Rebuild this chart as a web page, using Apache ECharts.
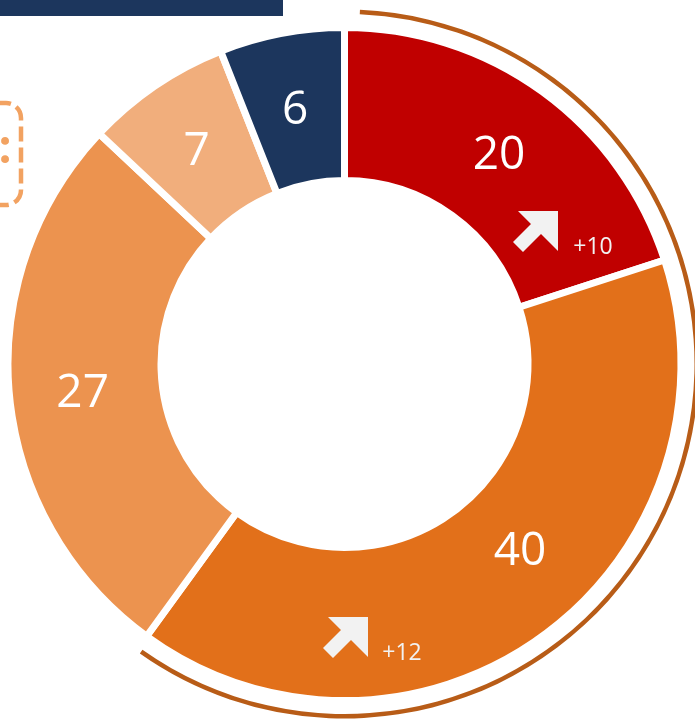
<!DOCTYPE html>
<html>
<head>
<meta charset="utf-8">
<script src="https://cdn.jsdelivr.net/npm/echarts@6/dist/echarts.min.js"></script>
<style>
  html, body { margin: 0; padding: 0; background: #fff; }
  #chart { width: 695px; height: 721px; }
</style>
</head>
<body>
<div id="chart"></div>
<script>
    // 数据
    const names = ['A', 'B', 'C', 'D', 'E']
    const values = [20, 40, 27, 7, 6]
    const colors = ['#C00000', '#E2701A', '#EC934F', '#F1AE7C', '#1C365D']
    const changes = ['+10', '+12']
    // 外圈弧线覆盖的份额 (前两块)
    const arcParts = [59.1, 40.9]

    const chart = echarts.init(document.getElementById('chart'))

    // 箭头形状 (右上)
    const arrowPoints = [[45, 0], [5, 0], [18, 13], [0, 31], [10, 41], [28, 23], [45, 40]]
    const arrowPos = [[513, 211], [323, 617]]
    const changePos = [[593, 247], [402, 653]]

    const graphics = [
        {
            type: 'rect',
            z: 100,
            shape: {x: 0, y: 0, width: 283, height: 16},
            style: {fill: '#1C365D'}
        },
        {
            type: 'rect',
            z: 100,
            shape: {x: -40, y: 103, width: 61, height: 102, r: 15},
            style: {fill: 'none', stroke: '#F2A261', lineWidth: 4.5, lineDash: [15, 6]}
        },
        {
            type: 'text',
            z: 100,
            x: 5,
            y: 150,
            style: {
                text: ':',
                fill: '#F2A261',
                font: 'bold 46px "Open Sans"',
                align: 'center',
                verticalAlign: 'middle'
            }
        }
    ]
    changes.forEach((c, i) => {
        graphics.push({
            type: 'polygon',
            z: 100,
            x: arrowPos[i][0],
            y: arrowPos[i][1],
            shape: {points: arrowPoints},
            style: {fill: '#F2F2F2'}
        })
        graphics.push({
            type: 'text',
            z: 100,
            x: changePos[i][0],
            y: changePos[i][1],
            style: {
                text: c,
                fill: '#F2F2F2',
                font: '23px "Open Sans"',
                align: 'center',
                verticalAlign: 'middle'
            }
        })
    })

    const option = {
        animation: false,
        graphic: graphics,
        series: [
            {
                type: 'pie',
                center: [344.5, 364],
                radius: [183.5, 336.5],
                startAngle: 90,
                clockwise: true,
                silent: true,
                itemStyle: {
                    borderColor: '#fff',
                    borderWidth: 7
                },
                label: {
                    show: true,
                    position: 'inside',
                    color: '#fff',
                    fontSize: 46,
                    fontFamily: 'Open Sans',
                    formatter: '{c}'
                },
                labelLine: {show: false},
                labelLayout: function (params) {
                    // 40 的标签稍微偏移
                    if (params.dataIndex === 1) {
                        return {dx: 21, dy: -25}
                    }
                    return {dy: 5}
                },
                data: values.map((v, i) => ({
                    name: names[i],
                    value: v,
                    itemStyle: {color: colors[i]}
                }))
            },
            {
                type: 'pie',
                center: [344.5, 364],
                radius: [350, 354.5],
                startAngle: 87.5,
                clockwise: true,
                silent: true,
                label: {show: false},
                labelLine: {show: false},
                data: [
                    {value: arcParts[0], itemStyle: {color: '#B85C17'}},
                    {value: arcParts[1], itemStyle: {color: 'rgba(0,0,0,0)'}}
                ]
            }
        ]
    }
    chart.setOption(option)
</script>
</body>
</html>
